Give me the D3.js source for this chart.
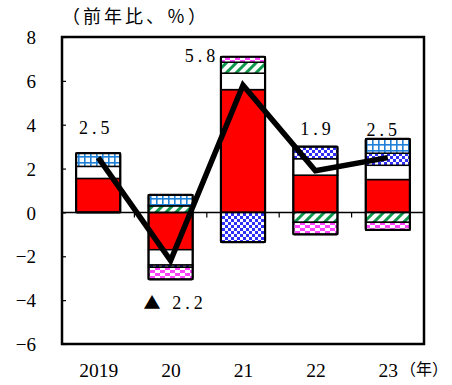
<!DOCTYPE html>
<html lang="ja">
<head>
<meta charset="UTF-8">
<script src="https://d3js.org/d3.v7.min.js"></script>
<style>
  body { margin: 0; background: #fff; }
  text { font-family: "Liberation Serif", "DejaVu Serif", serif; fill: #000; }
  .jp { font-family: "Noto Sans CJK JP", sans-serif; }
</style>
</head>
<body>
<svg id="chart" width="452" height="385"></svg>
<script>
// categories and series (前年比、％)
const years = ["2019", "20", "21", "22", "23"];
const redVals     = [1.55, -1.7, 5.6, 1.7, 1.5];
const whiteVals   = [0.55, -0.7, 0.75, 0.75, 0.65];
const greenVals   = [0, 0.3, 0.5, -0.45, -0.45];
const checkVals   = [0, -0.1, -1.35, 0.55, 0.55];
const gridVals    = [0.6, 0.5, 0, 0, 0.65];
const magentaVals = [0, -0.55, 0.25, -0.55, -0.35];
const totals      = [2.5, -2.2, 5.8, 1.9, 2.5];
const totalLabels = ["2.5", "2.2", "5.8", "1.9", "2.5"];
const yTicks = [8, 6, 4, 2, 0, -2, -4, -6];

const keys = ["red", "white", "green", "check", "grid", "magenta"];
const table = years.map((y, i) => ({
  year: y, red: redVals[i], white: whiteVals[i], green: greenVals[i],
  check: checkVals[i], grid: gridVals[i], magenta: magentaVals[i]
}));

const svg = d3.select("#chart");
const plotL = 62, plotR = 424, plotT = 37, plotB = 344;

const x = d3.scaleBand().domain(years).range([plotL, plotR]).paddingInner(0.39).paddingOuter(0.195);
const xc = d3.scalePoint().domain(years).range([plotL, plotR]).padding(0.5);
const y = d3.scaleLinear().domain([-6, 8]).range([plotB, plotT]);

// patterns
const defs = svg.append("defs");
const pGrid = defs.append("pattern").attr("id", "pGrid").attr("patternUnits", "userSpaceOnUse")
  .attr("width", 6).attr("height", 6);
pGrid.append("rect").attr("width", 6).attr("height", 6).attr("fill", "#fff");
pGrid.append("rect").attr("width", 6).attr("height", 1.6).attr("fill", "#1f80d8");
pGrid.append("rect").attr("width", 1.6).attr("height", 6).attr("fill", "#1f80d8");

const pCheck = defs.append("pattern").attr("id", "pCheck").attr("patternUnits", "userSpaceOnUse")
  .attr("width", 6).attr("height", 6);
pCheck.append("rect").attr("width", 6).attr("height", 6).attr("fill", "#fff");
pCheck.append("rect").attr("width", 3).attr("height", 3).attr("fill", "#2f2ff5");
pCheck.append("rect").attr("x", 3).attr("y", 3).attr("width", 3).attr("height", 3).attr("fill", "#2f2ff5");

const pGreen = defs.append("pattern").attr("id", "pGreen").attr("patternUnits", "userSpaceOnUse")
  .attr("width", 7).attr("height", 7).attr("patternTransform", "rotate(45)");
pGreen.append("rect").attr("width", 7).attr("height", 7).attr("fill", "#fff");
pGreen.append("rect").attr("width", 3).attr("height", 7).attr("fill", "#0d9a4c");

const pMag = defs.append("pattern").attr("id", "pMag").attr("patternUnits", "userSpaceOnUse")
  .attr("width", 10).attr("height", 6);
pMag.append("rect").attr("width", 10).attr("height", 6).attr("fill", "#fff");
pMag.append("rect").attr("width", 5).attr("height", 3).attr("fill", "#ff44ff");
pMag.append("rect").attr("x", 5).attr("y", 3).attr("width", 5).attr("height", 3).attr("fill", "#ff44ff");

const fills = { red: "#ff0000", white: "#ffffff", green: "url(#pGreen)", check: "url(#pCheck)",
  grid: "url(#pGrid)", magenta: "url(#pMag)" };

// stacked bars
const series = d3.stack().keys(keys).offset(d3.stackOffsetDiverging)(table);
const barG = svg.append("g");
series.forEach(s => {
  barG.selectAll(null)
    .data(s.filter(d => d[1] - d[0] !== 0))
    .enter().append("rect")
    .attr("x", d => x(d.data.year))
    .attr("width", x.bandwidth())
    .attr("y", d => y(Math.max(d[0], d[1])))
    .attr("height", d => Math.abs(y(d[0]) - y(d[1])))
    .attr("fill", fills[s.key])
    .attr("stroke", "#000")
    .attr("stroke-width", 1.5);
});

// bar outlines
const posSum = d => d3.sum(keys, k => Math.max(0, d[k]));
const negSum = d => d3.sum(keys, k => Math.min(0, d[k]));
barG.selectAll(".outline")
  .data(table)
  .enter().append("rect")
  .attr("class", "outline")
  .attr("x", d => x(d.year))
  .attr("width", x.bandwidth())
  .attr("y", d => y(posSum(d)))
  .attr("height", d => y(negSum(d)) - y(posSum(d)))
  .attr("fill", "none")
  .attr("stroke", "#000")
  .attr("stroke-width", 2.2)
  .attr("rx", 1);

// zero line
svg.append("line")
  .attr("x1", plotL).attr("x2", plotR)
  .attr("y1", y(0)).attr("y2", y(0))
  .attr("stroke", "#000").attr("stroke-width", 1.5);

// category separators on the zero line
svg.append("g").selectAll("line")
  .data(years.slice(1))
  .enter().append("line")
  .attr("x1", d => xc(d) - xc.step() / 2)
  .attr("x2", d => xc(d) - xc.step() / 2)
  .attr("y1", y(0)).attr("y2", y(0) + 5)
  .attr("stroke", "#000").attr("stroke-width", 1.2);

// total line
svg.append("path")
  .datum(totals)
  .attr("d", d3.line().x((d, i) => xc(years[i])).y(d => y(d)))
  .attr("fill", "none")
  .attr("stroke", "#000")
  .attr("stroke-width", 5.5)
  .attr("stroke-linejoin", "miter");

// frame
svg.append("rect")
  .attr("x", plotL).attr("y", plotT)
  .attr("width", plotR - plotL).attr("height", plotB - plotT)
  .attr("fill", "none").attr("stroke", "#000").attr("stroke-width", 2.5);

// y axis
const yAxis = d3.axisLeft(y).tickValues(yTicks).tickSize(-4).tickPadding(26)
  .tickFormat(d => d < 0 ? "\u2212" + Math.abs(d) : d);
const yg = svg.append("g").attr("transform", `translate(${plotL},0)`).call(yAxis);
yg.select(".domain").remove();
yg.selectAll(".tick line").attr("stroke-width", 1.2);
yg.selectAll("text").attr("font-size", 19).attr("font-family", "Liberation Serif, serif").attr("dy", "0.35em");

// x axis labels
const xAxis = d3.axisBottom(xc).tickSize(0).tickPadding(0);
const xg = svg.append("g").attr("transform", `translate(0,${plotB + 26})`).call(xAxis);
xg.select(".domain").remove();
xg.selectAll("text").attr("font-size", 19.5).attr("font-family", "Liberation Serif, serif").attr("dy", "0.35em");

svg.append("text").attr("class", "jp")
  .attr("x", 400).attr("y", 369).attr("dy", "0.35em")
  .attr("font-size", 16).text("（年）");

svg.append("text").attr("class", "jp")
  .attr("x", 62).attr("y", 17).attr("dy", "0.35em")
  .attr("font-size", 18).attr("letter-spacing", 3).text("（前年比、％）");

// value labels
const labelPos = [
  { dx: -2, dy: -30 }, { dx: 19, dy: 42 }, { dx: -41, dy: -30 }, { dx: 2, dy: -42 }, { dx: -4, dy: -28 }
];
svg.append("g").selectAll("text")
  .data(totals)
  .enter().append("text")
  .attr("x", (d, i) => xc(years[i]) + labelPos[i].dx)
  .attr("y", (d, i) => y(d) + labelPos[i].dy)
  .attr("dy", "0.35em")
  .attr("text-anchor", "middle")
  .attr("font-size", 18)
  .attr("letter-spacing", 4)
  .text((d, i) => totalLabels[i]);

// negative marker for 2020
svg.append("text").attr("class", "jp")
  .attr("x", xc(years[1]) - 27).attr("y", y(totals[1]) + 42).attr("dy", "0.35em")
  .attr("font-size", 17).text("▲");
</script>
</body>
</html>
